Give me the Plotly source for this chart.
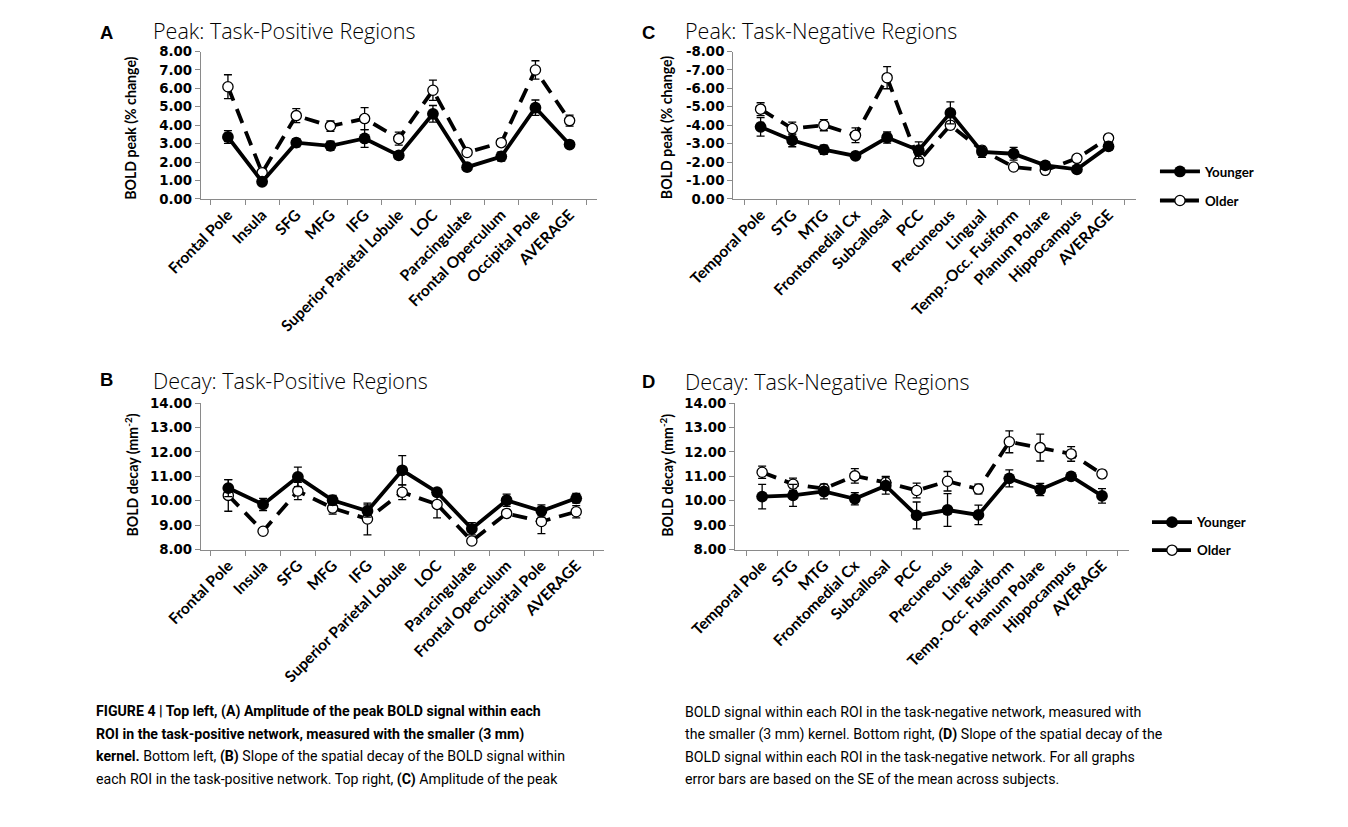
import plotly.graph_objects as go

W, H = 1348, 827

# ---------------- data ----------------
pos_regions = ["Frontal Pole", "Insula", "SFG", "MFG", "IFG", "Superior Parietal Lobule",
               "LOC", "Paracingulate", "Frontal Operculum", "Occipital Pole", "AVERAGE"]
neg_regions = ["Temporal Pole", "STG", "MTG", "Frontomedial Cx", "Subcallosal", "PCC",
               "Precuneous", "Lingual", "Temp.-Occ. Fusiform", "Planum Polare", "Hippocampus", "AVERAGE"]

peak_pos_young = [3.36, 0.93, 3.05, 2.88, 3.28, 2.36, 4.62, 1.72, 2.30, 4.95, 2.95]
peak_pos_young_se = [0.35, 0.10, 0.22, 0.25, 0.48, 0.20, 0.45, 0.10, 0.25, 0.42, 0.10]
peak_pos_old = [6.09, 1.42, 4.52, 3.95, 4.36, 3.27, 5.90, 2.52, 3.05, 7.00, 4.25]
peak_pos_old_se = [0.65, 0.15, 0.38, 0.28, 0.60, 0.35, 0.55, 0.10, 0.20, 0.50, 0.30]

peak_neg_young = [-3.91, -3.18, -2.67, -2.33, -3.33, -2.64, -4.67, -2.55, -2.45, -1.82, -1.60, -2.85]
peak_neg_young_se = [0.50, 0.35, 0.25, 0.15, 0.30, 0.45, 0.60, 0.30, 0.35, 0.20, 0.15, 0.20]
peak_neg_old = [-4.87, -3.82, -4.00, -3.45, -6.58, -2.05, -4.00, -2.64, -1.73, -1.55, -2.20, -3.30]
peak_neg_old_se = [0.35, 0.35, 0.30, 0.40, 0.60, 0.15, 0.20, 0.15, 0.15, 0.15, 0.20, 0.20]

decay_pos_young = [10.52, 9.85, 10.98, 10.02, 9.58, 11.25, 10.35, 8.85, 10.02, 9.58, 10.10]
decay_pos_young_se = [0.35, 0.25, 0.40, 0.20, 0.25, 0.60, 0.10, 0.25, 0.25, 0.25, 0.20]
decay_pos_old = [10.22, 8.75, 10.40, 9.70, 9.25, 10.35, 9.85, 8.35, 9.48, 9.15, 9.55]
decay_pos_old_se = [0.65, 0.10, 0.35, 0.25, 0.65, 0.30, 0.55, 0.10, 0.15, 0.50, 0.25]

decay_neg_young = [10.17, 10.22, 10.38, 10.08, 10.62, 9.40, 9.62, 9.42, 10.92, 10.46, 11.00, 10.20]
decay_neg_young_se = [0.50, 0.45, 0.30, 0.25, 0.35, 0.55, 0.67, 0.40, 0.35, 0.25, 0.15, 0.30]
decay_neg_old = [11.17, 10.68, 10.50, 11.02, 10.75, 10.42, 10.80, 10.48, 12.42, 12.18, 11.92, 11.10]
decay_neg_old_se = [0.25, 0.25, 0.15, 0.30, 0.25, 0.30, 0.40, 0.20, 0.45, 0.55, 0.30, 0.15]

peak_pos_ticks = [0, 1, 2, 3, 4, 5, 6, 7, 8]
peak_neg_ticks = [0, -1, -2, -3, -4, -5, -6, -7, -8]
decay_ticks = [8, 9, 10, 11, 12, 13, 14]

# ---------------- layout helpers ----------------
# the photographed page shows the figure slightly offset/scaled; map target
# picture pixels to figure pixels
OX, SX = 48.5, 0.970
OY, SY = 16.5, 0.980
FS = 0.975

def fx(p):
    return ((p - OX) / SX) / W

def fy(p):
    return 1 - ((p - OY) / SY) / H

def fsz(s):
    return s / FS

TICKFONT = "Lato, 'Open Sans', sans-serif"
NUMFONT = "'DejaVu Sans', Verdana, sans-serif"
TITLEFONT = "'Open Sans', Lato, sans-serif"

fig = go.Figure()

def add_pair(cats, young, young_se, old, old_se, xa, ya, leg_y=None, leg_o=None):
    fig.add_trace(go.Scatter(
        x=cats, y=old, name="Older", xaxis=xa, yaxis=ya,
        mode="lines+markers",
        line=dict(color="black", width=3.8, dash="15px,9px"),
        marker=dict(symbol="circle", size=fsz(10), color="white", line=dict(color="black", width=1.3)),
        error_y=dict(type="data", array=old_se, visible=True, color="black", thickness=1.3, width=4),
        showlegend=leg_o is not None, legend=leg_o or "legend",
    ))
    fig.add_trace(go.Scatter(
        x=cats, y=young, name="Younger", xaxis=xa, yaxis=ya,
        mode="lines+markers",
        line=dict(color="black", width=3.8),
        marker=dict(symbol="circle", size=fsz(11.5), color="black"),
        error_y=dict(type="data", array=young_se, visible=True, color="black", thickness=1.3, width=4),
        showlegend=leg_y is not None, legend=leg_y or "legend",
    ))

add_pair(pos_regions, peak_pos_young, peak_pos_young_se, peak_pos_old, peak_pos_old_se, "x", "y")
add_pair(neg_regions, peak_neg_young, peak_neg_young_se, peak_neg_old, peak_neg_old_se, "x2", "y2",
         leg_y="legend", leg_o="legend2")
add_pair(pos_regions, decay_pos_young, decay_pos_young_se, decay_pos_old, decay_pos_old_se, "x3", "y3")
add_pair(neg_regions, decay_neg_young, decay_neg_young_se, decay_neg_old, decay_neg_old_se, "x4", "y4",
         leg_y="legend3", leg_o="legend4")

AX = "#8a8a8a"
xaxis_common = dict(
    type="category", showline=True, linecolor=AX, linewidth=1,
    ticks="outside", tickson="boundaries", ticklen=5, tickcolor=AX,
    tickangle=-45, showgrid=False, zeroline=False,
    tickfont=dict(family=TICKFONT, size=15.5, color="black", weight="bold"),
)
yaxis_common = dict(
    showline=True, linecolor=AX, linewidth=1,
    ticks="outside", ticklen=5, tickcolor=AX, showgrid=False, zeroline=False,
    tickfont=dict(family=NUMFONT, size=fsz(13), color="black", weight="bold"),
)

# panel boxes (picture pixels)
A = (195, 593, 53, 200)
C = (730, 1135, 53, 200)
B = (195, 600, 404, 550)
D = (732, 1128, 404, 550)

def dom(p):
    x0, x1, y0, y1 = p
    return [fx(x0), fx(x1)], [fy(y1), fy(y0)]

def fmt(v):
    return f"{v:.2f}"

xa, ya = dom(A)
fig.update_layout(
    xaxis=dict(xaxis_common, domain=xa, anchor="y"),
    yaxis=dict(yaxis_common, domain=ya, anchor="x", range=[0, 8],
               tickvals=peak_pos_ticks, ticktext=[fmt(v) for v in peak_pos_ticks]),
)
xa, ya = dom(C)
fig.update_layout(
    xaxis2=dict(xaxis_common, domain=xa, anchor="y2"),
    yaxis2=dict(yaxis_common, domain=ya, anchor="x2", range=[0, -8],
                tickvals=peak_neg_ticks, ticktext=[fmt(v) for v in peak_neg_ticks]),
)
xa, ya = dom(B)
fig.update_layout(
    xaxis3=dict(xaxis_common, domain=xa, anchor="y3"),
    yaxis3=dict(yaxis_common, domain=ya, anchor="x3", range=[8, 14],
                tickvals=decay_ticks, ticktext=[fmt(v) for v in decay_ticks]),
)
xa, ya = dom(D)
fig.update_layout(
    xaxis4=dict(xaxis_common, domain=xa, anchor="y4"),
    yaxis4=dict(yaxis_common, domain=ya, anchor="x4", range=[8, 14],
                tickvals=decay_ticks, ticktext=[fmt(v) for v in decay_ticks]),
)

legend_common = dict(
    font=dict(family=TICKFONT, size=fsz(13), color="black", weight="bold"),
    bgcolor="rgba(0,0,0,0)", xanchor="left", yanchor="middle",
    itemwidth=40, borderwidth=0,
)
fig.update_layout(
    legend=dict(legend_common, x=fx(1154), y=fy(173)),
    legend2=dict(legend_common, x=fx(1154), y=fy(202)),
    legend3=dict(legend_common, x=fx(1146), y=fy(523)),
    legend4=dict(legend_common, x=fx(1146), y=fy(551)),
)

annotations = []

def ann(text, x, y, size, weight="normal", xanchor="left", yanchor="middle", angle=0, family=TICKFONT):
    annotations.append(dict(
        text=text, x=fx(x), y=fy(y), xref="paper", yref="paper",
        xanchor=xanchor, yanchor=yanchor, showarrow=False, textangle=angle,
        font=dict(family=family, size=fsz(size), color="black", weight=weight),
    ))

LET = "'Liberation Sans', Arial, sans-serif"
ann("A", 92, 34, 18, "bold", family=LET)
ann("Peak: Task-Positive Regions", 145, 31.5, 21, weight=300, family=TITLEFONT)
ann("C", 636, 34, 18, "bold", family=LET)
ann("Peak: Task-Negative Regions", 680, 31.5, 21, weight=300, family=TITLEFONT)
ann("B", 92, 380, 18, "bold", family=LET)
ann("Decay: Task-Positive Regions", 145, 381.5, 21, weight=300, family=TITLEFONT)
ann("D", 636, 382, 18, "bold", family=LET)
ann("Decay: Task-Negative Regions", 680, 382.5, 21, weight=300, family=TITLEFONT)

ann("BOLD peak (% change)", 125, 130, 13.8, "bold", xanchor="center", angle=-90)
ann("BOLD peak (% change)", 663, 129, 13.8, "bold", xanchor="center", angle=-90)
ann("BOLD decay (mm<sup>-2</sup>)", 125, 476, 13.8, "bold", xanchor="center", angle=-90)
ann("BOLD decay (mm<sup>-2</sup>)", 663, 476, 13.8, "bold", xanchor="center", angle=-90)

CAP = "Roboto, 'Liberation Sans', sans-serif"
left_lines = [
    "<b>FIGURE 4 | Top left, (A) Amplitude of the peak BOLD signal within each</b>",
    "<b>ROI in the task-positive network, measured with the smaller (3 mm)</b>",
    "<b>kernel.</b> Bottom left, <b>(B)</b> Slope of the spatial decay of the BOLD signal within",
    "each ROI in the task-positive network. Top right, <b>(C)</b> Amplitude of the peak",
]
right_lines = [
    "BOLD signal within each ROI in the task-negative network, measured with",
    "the smaller (3 mm) kernel. Bottom right, <b>(D)</b> Slope of the spatial decay of the",
    "BOLD signal within each ROI in the task-negative network. For all graphs",
    "error bars are based on the SE of the mean across subjects.",
]
line_y = [712, 734.5, 757, 779.5]
for t, yy in zip(left_lines, line_y):
    ann(t, 88, yy, 13.8, family=CAP)
for t, yy in zip(right_lines, line_y):
    ann(t, 680, yy, 13.8, family=CAP)

fig.update_layout(
    width=W, height=H, margin=dict(l=0, r=0, t=0, b=0),
    paper_bgcolor="white", plot_bgcolor="white",
    annotations=annotations,
)

fig.write_html("out.html")
